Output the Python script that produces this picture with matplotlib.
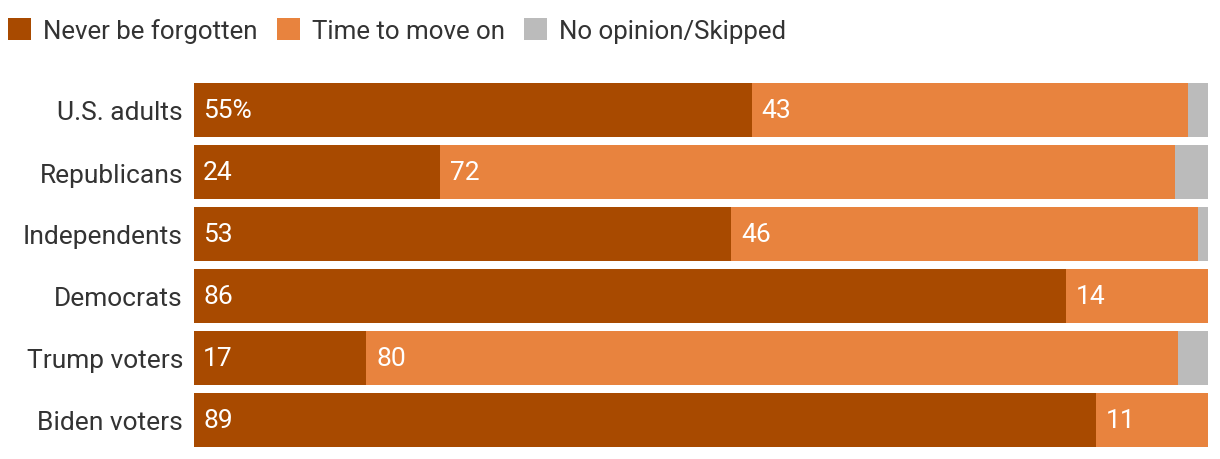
import matplotlib.pyplot as plt
from matplotlib.patches import Patch

# Data
groups = ['U.S. adults', 'Republicans', 'Independents', 'Democrats',
          'Trump voters', 'Biden voters']
never_forgotten = [55, 24.3, 53, 86, 17, 89]
move_on = [43, 72.4, 46, 14, 80, 11]
no_opinion = [2, 3.3, 1, 0, 3, 0]
series_names = ['Never be forgotten', 'Time to move on', 'No opinion/Skipped']
colors = ['#A84A00', '#E8833E', '#BBBBBB']

plt.rcParams['font.family'] = ['Roboto', 'DejaVu Sans']

fig = plt.figure(figsize=(12.2, 4.6), dpi=100)
ax = fig.add_axes([194 / 1220, 8 / 460, 1014 / 1220, 372 / 460])

y = list(range(len(groups)))
h = 54 / 62
left = [0] * len(groups)
for vals, col in zip([never_forgotten, move_on, no_opinion], colors):
    ax.barh(y, vals, left=left, height=h, color=col, linewidth=0)
    left = [l + v for l, v in zip(left, vals)]

# value labels inside bars
for i in y:
    first = f'{round(never_forgotten[i])}' + ('%' if i == 0 else '')
    ax.annotate(first, (0, i), xytext=(6.5, 0), textcoords='offset points',
                ha='left', va='center', color='white', fontsize=19)
    ax.annotate(f'{round(move_on[i])}', (never_forgotten[i], i), xytext=(7, 0),
                textcoords='offset points', ha='left', va='center',
                color='white', fontsize=19)

ax.set_xlim(0, 100)
ax.set_ylim(len(groups) - 0.5, -0.5)
ax.set_yticks(y)
ax.set_yticklabels(groups, fontsize=19, color='#333333')
ax.tick_params(axis='y', length=0, pad=8)
ax.set_xticks([])
for s in ax.spines.values():
    s.set_visible(False)

# legend at top
handles = [Patch(facecolor=c, edgecolor='none') for c in colors]
fig.legend(handles, series_names, loc='upper left',
           bbox_to_anchor=(8 / 1220, 1 - 19 / 460),
           ncol=3, frameon=False, handlelength=0.9, handleheight=0.9,
           handletextpad=0.45, columnspacing=0.75, borderpad=0, borderaxespad=0,
           prop={'family': ['Roboto', 'DejaVu Sans'], 'size': 18.6},
           labelcolor='#333333')

fig.savefig('out.png', dpi=100)
